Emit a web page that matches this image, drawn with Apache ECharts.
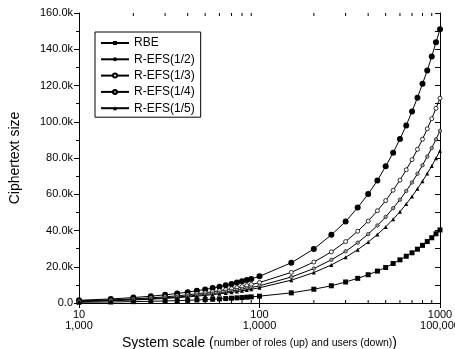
<!DOCTYPE html>
<html>
<head>
<meta charset="utf-8">
<script src="https://cdn.jsdelivr.net/npm/echarts@6/dist/echarts.min.js"></script>
<style>
  html, body { margin: 0; padding: 0; background: #fff; }
  #chart { width: 455px; height: 349px; }
</style>
</head>
<body>
<div id="chart"></div>
<script>
// number of roles (x, log scale)
var roles = [10, 15, 20, 25, 30, 35, 40, 45, 50, 55, 60, 65, 70, 75, 80, 85, 90, 100,
  150, 200, 250, 300, 350, 400, 450, 500, 550, 600, 650, 700, 750, 800, 850, 900, 950, 1000];

var rbe = [400, 560, 750, 940, 1130, 1320, 1500, 1690, 1880, 2070, 2260, 2450, 2640, 2830, 3010, 3200, 3390, 3770,
  5600, 7600, 9500, 11600, 13600, 15600, 17600, 19600, 21800, 23800, 25800, 27700, 29700, 31800, 33900, 36000, 38200, 40300];
var refsHalf = [1500, 2250, 3000, 3750, 4500, 5250, 6000, 6750, 7500, 8250, 9000, 9750, 10500, 11250, 12000, 12700, 13300, 14700,
  22200, 29800, 37600, 44900, 52700, 60100, 67600, 75400, 82900, 90500, 98000, 105700, 113300, 121000, 128300, 136000, 143800, 151000];
var refsThird = [1130, 1700, 2260, 2830, 3390, 3960, 4520, 5090, 5650, 6220, 6780, 7350, 7910, 8480, 9040, 9610, 10170, 11300,
  16900, 22600, 28200, 33900, 39600, 45200, 50900, 56500, 62200, 67800, 73500, 79100, 84800, 90400, 96100, 101700, 107400, 113000];
var refsQuarter = [950, 1430, 1900, 2380, 2850, 3330, 3800, 4280, 4750, 5230, 5700, 6180, 6650, 7130, 7600, 8080, 8550, 9500,
  14300, 19000, 23800, 28500, 33300, 38000, 42800, 47500, 52300, 57000, 61800, 66500, 71300, 76000, 80800, 85500, 90300, 95000];
var refsFifth = [840, 1260, 1680, 2100, 2520, 2940, 3360, 3780, 4200, 4620, 5040, 5460, 5880, 6300, 6720, 7140, 7560, 8400,
  12600, 16800, 21000, 25200, 29400, 33600, 37800, 42000, 46200, 50400, 54600, 58800, 63000, 67200, 71400, 75600, 79800, 84000];

// x tick labels: roles (up) and users (down)
var xTickLabels = { 10: '10\n1,000', 100: '100\n1,0000', 1000: '1000\n100,000' };
var xMinorTicks = [20, 30, 40, 50, 60, 70, 80, 90, 200, 300, 400, 500, 600, 700, 800, 900];

var FONT = 'Liberation Sans, Arial, sans-serif';

function pairs(values) {
  return roles.map(function (r, i) { return [r, values[i]]; });
}

function makeSeries(name, values, symbol, size, fill, border) {
  return {
    name: name,
    type: 'line',
    data: pairs(values),
    symbol: symbol,
    symbolSize: size,
    showSymbol: true,
    lineStyle: { color: '#000', width: 1 },
    itemStyle: { color: fill, borderColor: '#000', borderWidth: border },
    emphasis: { disabled: true }
  };
}

var chart = echarts.init(document.getElementById('chart'), null, { renderer: 'canvas' });

var axisLine = { show: true, lineStyle: { color: '#000', width: 1 } };

var option = {
  animation: false,
  textStyle: { fontFamily: FONT, color: '#000' },
  grid: { left: 79, right: 15, top: 13, bottom: 46, containLabel: false, outerBoundsMode: 'none' },
  legend: {
    orient: 'vertical',
    left: 95,
    top: 32,
    padding: [4, 6, 2, 5],
    itemGap: 2.3,
    itemWidth: 28,
    itemHeight: 5,
    borderColor: '#000',
    borderWidth: 1,
    textStyle: { fontFamily: FONT, fontSize: 12, color: '#000', lineHeight: 14 },
    data: ['RBE', 'R-EFS(1/2)', 'R-EFS(1/3)', 'R-EFS(1/4)', 'R-EFS(1/5)']
  },
  xAxis: [{
    type: 'log',
    logBase: 10,
    min: 10,
    max: 1000,
    axisLine: axisLine,
    axisTick: { inside: true, length: 5, lineStyle: { color: '#000' } },
    splitLine: { show: false },
    axisLabel: {
      margin: 6,
      fontSize: 11,
      lineHeight: 11,
      color: '#000',
      fontFamily: FONT,
      formatter: function (v) { return xTickLabels[Math.round(v)] || ''; }
    },
    name: '{a|System scale (}{b|number of roles (up) and users (down)}{a|)}',
    nameLocation: 'middle',
    nameGap: 29,
    nameTextStyle: {
      rich: {
        a: { fontSize: 14, fontFamily: FONT, color: '#000' },
        b: { fontSize: 10.5, fontFamily: FONT, color: '#000' }
      }
    }
  }, {
    type: 'log',
    logBase: 10,
    min: 10,
    max: 1000,
    position: 'top',
    axisLine: axisLine,
    axisTick: { inside: true, length: 5, lineStyle: { color: '#000' } },
    axisLabel: { show: false },
    splitLine: { show: false }
  }],
  yAxis: [{
    type: 'value',
    min: 0,
    max: 160000,
    interval: 20000,
    axisLine: axisLine,
    axisTick: { show: true, length: 5, lineStyle: { color: '#000' } },
    minorTick: { show: true, splitNumber: 2, length: 3, lineStyle: { color: '#000' } },
    splitLine: { show: false },
    axisLabel: {
      margin: 6,
      fontSize: 11,
      color: '#000',
      fontFamily: FONT,
      formatter: function (v) { return v === 0 ? '0.0' : (v / 1000).toFixed(1) + 'k'; }
    },
    name: 'Ciphertext size',
    nameLocation: 'middle',
    nameRotate: 90,
    nameGap: 57,
    nameTextStyle: { fontSize: 14, fontFamily: FONT, color: '#000' }
  }, {
    type: 'value',
    min: 0,
    max: 160000,
    interval: 10000,
    position: 'right',
    axisLine: axisLine,
    axisTick: { show: true, inside: true, length: 5, lineStyle: { color: '#000' } },
    axisLabel: { show: false },
    splitLine: { show: false }
  }],
  series: [
    makeSeries('RBE', rbe, 'rect', 5, '#000', 0),
    makeSeries('R-EFS(1/2)', refsHalf, 'circle', 6, '#000', 0),
    makeSeries('R-EFS(1/3)', refsThird, 'circle', 4, '#fff', 0.8),
    makeSeries('R-EFS(1/4)', refsQuarter, 'circle', 3.5, '#9a9a9a', 0.6),
    makeSeries('R-EFS(1/5)', refsFifth, 'triangle', 4, '#000', 0)
  ]
};

chart.setOption(option);

// minor ticks on the log axes (bottom pointing up, top pointing down)
var yBottom = chart.convertToPixel({ yAxisIndex: 0 }, 0);
var yTop = chart.convertToPixel({ yAxisIndex: 0 }, 160000);
var tickLines = [];
xMinorTicks.forEach(function (v) {
  var x = chart.convertToPixel({ xAxisIndex: 0 }, v);
  tickLines.push({ type: 'line', silent: true, shape: { x1: x, y1: yBottom, x2: x, y2: yBottom - 3 }, style: { stroke: '#000', lineWidth: 1 } });
  tickLines.push({ type: 'line', silent: true, shape: { x1: x, y1: yTop, x2: x, y2: yTop + 3 }, style: { stroke: '#000', lineWidth: 1 } });
});
chart.setOption({ graphic: tickLines });
</script>
</body>
</html>
